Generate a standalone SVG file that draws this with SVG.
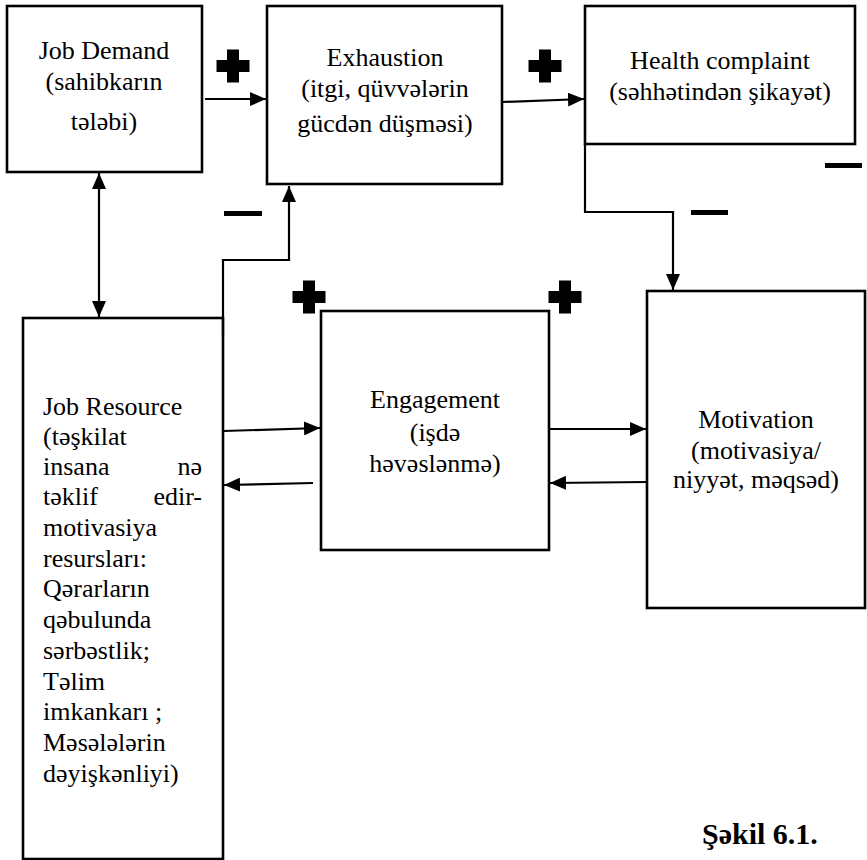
<svg xmlns="http://www.w3.org/2000/svg" width="867" height="860" viewBox="0 0 867 860">
<style>
.box{fill:#fff;stroke:#000;stroke-width:2.6}
.t{font-family:"Liberation Serif","DejaVu Serif","Times New Roman",serif;font-size:26px;fill:#000}
.c{text-anchor:middle}
.e{text-anchor:end}
.ln{fill:none;stroke:#000;stroke-width:2.2}
.arr{marker-end:url(#ah)}
.sign{fill:#000}
</style>
<defs>
<marker id="ah" viewBox="0 0 16 14" refX="16" refY="7" markerWidth="16" markerHeight="14" markerUnits="userSpaceOnUse" orient="auto-start-reverse">
<path d="M0,0 L16,7 L0,14 Z" fill="#000"/>
</marker>
<path id="plus" d="M-6,-16.5 H6 V-6 H16.5 V6 H6 V16.5 H-6 V6 H-16.5 V-6 H-6 Z"/>
</defs>
<rect width="867" height="860" fill="#fff"/>

<g id="job-demand">
<rect class="box" x="7" y="6" width="195" height="166"/>
<text class="t c" x="104" y="59">Job Demand</text>
<text class="t c" x="104" y="90">(sahibkarın</text>
<text class="t c" x="104" y="130">tələbi)</text>
</g>

<g id="exhaustion">
<rect class="box" x="267" y="6" width="235" height="178"/>
<text class="t c" x="385" y="66">Exhaustion</text>
<text class="t c" x="385" y="97">(itgi, qüvvələrin</text>
<text class="t c" x="385" y="132">gücdən düşməsi)</text>
</g>

<g id="health-complaint">
<rect class="box" x="585" y="6" width="270" height="138"/>
<text class="t c" x="720" y="69">Health complaint</text>
<text class="t c" x="720" y="100">(səhhətindən şikayət)</text>
</g>

<g id="job-resource">
<rect class="box" x="23" y="318" width="200" height="541"/>
<text class="t" x="43" y="415">Job Resource</text>
<text class="t" x="43" y="445">(təşkilat</text>
<text class="t" x="43" y="475">insana</text>
<text class="t e" x="202" y="475">nə</text>
<text class="t" x="43" y="505">təklif</text>
<text class="t e" x="202" y="505">edir-</text>
<text class="t" x="43" y="536">motivasiya</text>
<text class="t" x="43" y="567">resursları:</text>
<text class="t" x="43" y="597">Qərarların</text>
<text class="t" x="43" y="628">qəbulunda</text>
<text class="t" x="43" y="659">sərbəstlik;</text>
<text class="t" x="43" y="690">Təlim</text>
<text class="t" x="43" y="720">imkankarı ;</text>
<text class="t" x="43" y="751">Məsələlərin</text>
<text class="t" x="43" y="782">dəyişkənliyi)</text>
</g>

<g id="engagement">
<rect class="box" x="321" y="311" width="228" height="239"/>
<text class="t c" x="435" y="408">Engagement</text>
<text class="t c" x="435" y="441">(işdə</text>
<text class="t c" x="435" y="472">həvəslənmə)</text>
</g>

<g id="motivation">
<rect class="box" x="647" y="291" width="218" height="317"/>
<text class="t c" x="756" y="428">Motivation</text>
<text class="t c" x="756" y="459">(motivasiya/</text>
<text class="t c" x="756" y="488">niyyət, məqsəd)</text>
</g>

<g id="connectors">
<line class="ln arr" x1="205" y1="99" x2="266" y2="99"/>
<line class="ln arr" x1="502" y1="102" x2="584" y2="99"/>
<path class="ln arr" d="M585,144 V212 H673 V290"/>
<line class="ln arr" x1="99" y1="173" x2="99" y2="317" marker-start="url(#ah)"/>
<path class="ln arr" d="M223,336 V260 H289 V186"/>
<line class="ln arr" x1="223" y1="431" x2="320" y2="428"/>
<line class="ln arr" x1="313" y1="483" x2="224" y2="485"/>
<line class="ln arr" x1="549" y1="429" x2="646" y2="429"/>
<line class="ln arr" x1="647" y1="482" x2="550" y2="483"/>
</g>

<g id="signs">
<use href="#plus" class="sign" x="233" y="66"/>
<use href="#plus" class="sign" x="545" y="66"/>
<use href="#plus" class="sign" x="309" y="297"/>
<use href="#plus" class="sign" x="565" y="297"/>
<rect class="sign" x="825" y="163" width="37" height="5"/>
<rect class="sign" x="691" y="210" width="37" height="5"/>
<rect class="sign" x="224" y="211" width="38" height="5"/>
</g>

<text id="caption" x="702" y="844" style="font-family:'Liberation Serif','DejaVu Serif','Times New Roman',serif;font-size:30px;font-weight:bold">Şəkil 6.1.</text>
</svg>
